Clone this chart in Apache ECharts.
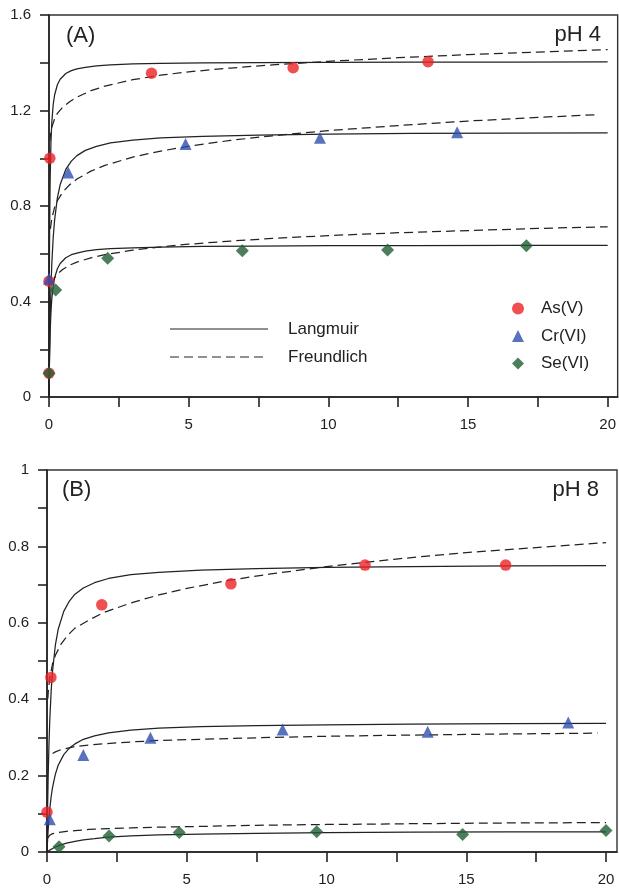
<!DOCTYPE html>
<html>
<head>
<meta charset="utf-8">
<script src="https://cdn.jsdelivr.net/npm/echarts@6/dist/echarts.min.js"></script>
<style>
html,body{margin:0;padding:0;background:#fff;}
#chart{width:619px;height:889px;}
</style>
</head>
<body>
<div id="chart"></div>
<script>
// ---------- tick values / labels ----------
const xTicks = [0, 2.5, 5, 7.5, 10, 12.5, 15, 17.5, 20];
const xLabels = [0, 5, 10, 15, 20];
const yTicksA = [0, 0.2, 0.4, 0.6, 0.8, 1.0, 1.2, 1.4, 1.6];
const yLabelsA = [0, 0.4, 0.8, 1.2, 1.6];
const yTicksB = [0, 0.1, 0.2, 0.3, 0.4, 0.5, 0.6, 0.7, 0.8, 0.9, 1.0];
const yLabelsB = [0, 0.2, 0.4, 0.6, 0.8, 1];
const speciesNames = ['As(V)', 'Cr(VI)', 'Se(VI)'];
const modelNames = ['Langmuir', 'Freundlich'];

// ---------- (A) pH 4 measured ----------
const asA = [[0, 0.10], [0, 0.485], [0.03, 1.0], [3.67, 1.356], [8.74, 1.379], [13.57, 1.404]];
const crA = [[0, 0.495], [0.69, 0.94], [4.89, 1.06], [9.7, 1.086], [14.61, 1.109]];
const seA = [[0, 0.10], [0.24, 0.448], [2.1, 0.581], [6.92, 0.613], [12.12, 0.616], [17.09, 0.634]];

// ---------- (A) pH 4 fitted curves ----------
const asLangA = [[0, 0], [0.01, 0.436], [0.02, 0.666], [0.04, 0.903], [0.07, 1.066], [0.1, 1.15], [0.15, 1.224], [0.2, 1.265], [0.3, 1.308], [0.4, 1.331], [0.6, 1.355], [0.8, 1.367], [1.0, 1.374], [1.3, 1.381], [1.7, 1.387], [2.2, 1.391], [3, 1.395], [4, 1.397], [5.5, 1.399], [7.5, 1.401], [10, 1.402], [13, 1.403], [16.5, 1.403], [20, 1.404]];
const asFreA = [[0.03, 1.07], [0.05, 1.095], [0.1, 1.13], [0.2, 1.165], [0.3, 1.188], [0.5, 1.215], [0.75, 1.238], [1, 1.256], [1.5, 1.283], [2, 1.302], [3, 1.329], [4, 1.348], [5, 1.362], [6.5, 1.378], [8, 1.391], [10, 1.406], [12.5, 1.421], [15, 1.434], [17.5, 1.445], [20, 1.455]];
const crLangA = [[0, 0], [0.01, 0.101], [0.02, 0.185], [0.04, 0.318], [0.07, 0.458], [0.1, 0.556], [0.15, 0.667], [0.2, 0.741], [0.3, 0.834], [0.4, 0.89], [0.6, 0.953], [0.8, 0.988], [1.0, 1.011], [1.3, 1.033], [1.7, 1.05], [2.2, 1.064], [3, 1.076], [4, 1.085], [5.5, 1.092], [7.5, 1.097], [10, 1.101], [13, 1.104], [16.5, 1.105], [20, 1.106]];
const crFreA = [[0.05, 0.704], [0.1, 0.747], [0.2, 0.794], [0.3, 0.822], [0.5, 0.86], [0.75, 0.89], [1, 0.913], [1.5, 0.946], [2, 0.97], [3, 1.005], [4, 1.03], [5, 1.05], [6.5, 1.075], [8, 1.094], [10, 1.116], [12.5, 1.137], [15, 1.156], [17.5, 1.171], [19.7, 1.183]];
const seLangA = [[0, 0], [0.01, 0.097], [0.02, 0.169], [0.04, 0.267], [0.07, 0.355], [0.1, 0.41], [0.15, 0.465], [0.2, 0.499], [0.3, 0.537], [0.4, 0.559], [0.6, 0.583], [0.8, 0.596], [1.0, 0.603], [1.3, 0.611], [1.7, 0.617], [2.2, 0.621], [3, 0.625], [4, 0.628], [5.5, 0.631], [7.5, 0.632], [10, 0.634], [13, 0.634], [16.5, 0.635], [20, 0.635]];
const seFreA = [[0.1, 0.472], [0.2, 0.499], [0.3, 0.515], [0.5, 0.535], [0.75, 0.553], [1, 0.565], [1.5, 0.583], [2, 0.596], [3, 0.615], [4, 0.629], [5, 0.64], [6.5, 0.653], [8, 0.664], [10, 0.676], [12.5, 0.688], [15, 0.697], [17.5, 0.706], [20, 0.713]];

// ---------- (B) pH 8 measured ----------
const asB = [[0, 0.104], [0.14, 0.457], [1.96, 0.647], [6.58, 0.702], [11.38, 0.751], [16.41, 0.751]];
const crB = [[0.1, 0.086], [1.3, 0.254], [3.7, 0.299], [8.43, 0.321], [13.62, 0.315], [18.65, 0.339]];
const seB = [[0.43, 0.014], [2.22, 0.042], [4.73, 0.051], [9.65, 0.053], [14.87, 0.046], [20, 0.056]];

// ---------- (B) pH 8 fitted curves ----------
const asLangB = [[0, 0], [0.01, 0.059], [0.02, 0.11], [0.04, 0.191], [0.07, 0.281], [0.1, 0.346], [0.15, 0.423], [0.2, 0.475], [0.3, 0.542], [0.4, 0.583], [0.6, 0.63], [0.8, 0.657], [1.0, 0.675], [1.3, 0.691], [1.7, 0.705], [2.2, 0.716], [3, 0.726], [4, 0.732], [5.5, 0.738], [7.5, 0.742], [10, 0.745], [13, 0.747], [16.5, 0.749], [20, 0.75]];
const asFreB = [[0.03, 0.401], [0.05, 0.424], [0.1, 0.457], [0.2, 0.493], [0.3, 0.515], [0.5, 0.544], [0.75, 0.568], [1, 0.586], [1.5, 0.607], [2, 0.626], [3, 0.652], [4, 0.673], [5, 0.69], [6.5, 0.711], [8, 0.728], [10, 0.747], [12.5, 0.767], [15, 0.784], [17.5, 0.797], [20, 0.81]];
const crLangB = [[0, 0], [0.01, 0.016], [0.02, 0.031], [0.04, 0.057], [0.07, 0.088], [0.1, 0.113], [0.15, 0.146], [0.2, 0.17], [0.3, 0.204], [0.4, 0.227], [0.6, 0.255], [0.8, 0.272], [1.0, 0.283], [1.3, 0.295], [1.7, 0.304], [2.2, 0.312], [3, 0.319], [4, 0.324], [5.5, 0.328], [7.5, 0.331], [10, 0.333], [13, 0.335], [16.5, 0.336], [20, 0.337]];
const crFreB = [[0.2, 0.258], [0.3, 0.262], [0.5, 0.268], [0.75, 0.272], [1, 0.276], [1.5, 0.28], [2, 0.283], [3, 0.288], [4, 0.292], [5.5, 0.295], [7.5, 0.299], [10, 0.303], [13, 0.306], [16.5, 0.309], [19.7, 0.311]];
const seLangB = [[0, 0], [0.1, 0.005], [0.2, 0.009], [0.3, 0.013], [0.47, 0.018], [0.7, 0.023], [1, 0.028], [1.3, 0.032], [1.7, 0.035], [2.2, 0.039], [3, 0.042], [4, 0.045], [5.5, 0.047], [7.5, 0.049], [10, 0.051], [13, 0.052], [16.5, 0.053], [20, 0.053]];
const seFreB = [[0.01, 0.035], [0.03, 0.039], [0.1, 0.044], [0.2, 0.048], [0.4, 0.051], [0.7, 0.054], [1, 0.056], [1.5, 0.059], [2.2, 0.061], [3, 0.063], [4, 0.065], [5.5, 0.067], [7.5, 0.07], [10, 0.072], [13, 0.074], [16.5, 0.076], [20, 0.077]];

// ---------- styling ----------
const FONT = '"Liberation Sans", Arial, sans-serif';
const INK = '#222';
const markerColors = ['#ec2327', '#2f4fae', '#1f5e33'];
const markerSymbols = ['circle', 'triangle', 'diamond'];
const markerSizes = [11.5, 12, 13];

function axisX(gi, max) {
  return {
    gridIndex: gi, type: 'value', min: 0, max: max,
    axisLine: {show: true, onZero: false, lineStyle: {color: INK, width: 1.6}},
    axisTick: {show: true, inside: false, length: 10, customValues: xTicks, lineStyle: {color: INK, width: 1.6}},
    axisLabel: {customValues: xLabels, margin: 20, fontSize: 15, color: INK, fontFamily: FONT},
    splitLine: {show: false}
  };
}
function axisY(gi, max, ticks, labels) {
  return {
    gridIndex: gi, type: 'value', min: 0, max: max,
    axisLine: {show: true, onZero: false, lineStyle: {color: INK, width: 1.6}},
    axisTick: {show: true, inside: false, length: 9, customValues: ticks, lineStyle: {color: INK, width: 1.6}},
    axisLabel: {customValues: labels, margin: 18, fontSize: 15, color: INK, fontFamily: FONT},
    splitLine: {show: false}
  };
}
function scatter(name, idx, data, gi) {
  return {
    name: name, type: 'scatter', xAxisIndex: gi, yAxisIndex: gi, data: data,
    symbol: markerSymbols[idx], symbolSize: markerSizes[idx],
    itemStyle: {color: markerColors[idx]}, z: 5, silent: true
  };
}
function curve(name, data, gi, dashed) {
  return {
    name: name, type: 'line', xAxisIndex: gi, yAxisIndex: gi, data: data,
    showSymbol: false, symbol: 'none', smooth: false,
    lineStyle: {color: INK, width: 1.25, type: dashed ? [9, 5] : 'solid'},
    z: 3, silent: true
  };
}

const chart = echarts.init(document.getElementById('chart'), null, {renderer: 'canvas'});
chart.setOption({
  animation: false,
  backgroundColor: '#fff',
  grid: [
    {left: 49, top: 15, width: 569, height: 382, show: true, borderColor: '#333', borderWidth: 1.4, backgroundColor: 'transparent'},
    {left: 47, top: 470, width: 570, height: 382, show: true, borderColor: '#333', borderWidth: 1.4, backgroundColor: 'transparent'}
  ],
  xAxis: [axisX(0, 569 / 27.95), axisX(1, 570 / 27.95)],
  yAxis: [axisY(0, 1.6, yTicksA, yLabelsA), axisY(1, 1.0, yTicksB, yLabelsB)],
  legend: {
    data: speciesNames, orient: 'vertical', left: 507, top: 295,
    itemWidth: 12, itemHeight: 12, itemGap: 10.5,
    textStyle: {fontSize: 17, color: INK, fontFamily: FONT, lineHeight: 17, padding: [0, 0, 0, 12]},
    selectedMode: false
  },
  graphic: [
    {type: 'line', shape: {x1: 170, y1: 329, x2: 268, y2: 329}, style: {stroke: INK, lineWidth: 1.2}},
    {type: 'line', shape: {x1: 170, y1: 357, x2: 268, y2: 357}, style: {stroke: INK, lineWidth: 1.2, lineDash: [9, 5]}},
    {type: 'text', x: 288, y: 329, style: {text: modelNames[0], font: '17px ' + FONT, fill: INK, verticalAlign: 'middle'}},
    {type: 'text', x: 288, y: 357, style: {text: modelNames[1], font: '17px ' + FONT, fill: INK, verticalAlign: 'middle'}},
    {type: 'text', x: 66, y: 36, style: {text: '(A)', font: '22px ' + FONT, fill: INK, verticalAlign: 'middle'}},
    {type: 'text', x: 601, y: 35, style: {text: 'pH 4', font: '22px ' + FONT, fill: INK, align: 'right', verticalAlign: 'middle'}},
    {type: 'text', x: 62, y: 490, style: {text: '(B)', font: '22px ' + FONT, fill: INK, verticalAlign: 'middle'}},
    {type: 'text', x: 599, y: 490, style: {text: 'pH 8', font: '22px ' + FONT, fill: INK, align: 'right', verticalAlign: 'middle'}}
  ],
  series: [
    curve('As L A', asLangA, 0, false), curve('As F A', asFreA, 0, true),
    curve('Cr L A', crLangA, 0, false), curve('Cr F A', crFreA, 0, true),
    curve('Se L A', seLangA, 0, false), curve('Se F A', seFreA, 0, true),
    scatter(speciesNames[0], 0, asA, 0), scatter(speciesNames[1], 1, crA, 0), scatter(speciesNames[2], 2, seA, 0),
    curve('As L B', asLangB, 1, false), curve('As F B', asFreB, 1, true),
    curve('Cr L B', crLangB, 1, false), curve('Cr F B', crFreB, 1, true),
    curve('Se L B', seLangB, 1, false), curve('Se F B', seFreB, 1, true),
    scatter(speciesNames[0], 0, asB, 1), scatter(speciesNames[1], 1, crB, 1), scatter(speciesNames[2], 2, seB, 1)
  ]
});
</script>
</body>
</html>
